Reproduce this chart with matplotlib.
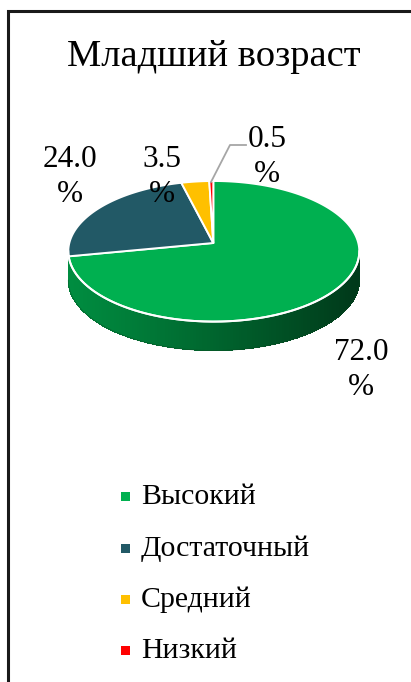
import numpy as np
import matplotlib
matplotlib.use("Agg")
import matplotlib.pyplot as plt
from matplotlib.patches import Polygon, Rectangle

# ------------------------------------------------------------------ #
# Data
# ------------------------------------------------------------------ #
TITLE = "Младший возраст"
categories = ["Высокий", "Достаточный", "Средний", "Низкий"]
values = [72.0, 24.0, 3.5, 0.5]
labels = ["72.0\n%", "24.0\n%", "3.5\n%", "0.5\n%"]
colors = ["#00B050", "#225966", "#FFC000", "#FF0000"]

FONT = "Liberation Serif"

# pie geometry (pixel coords, y down)
CX, CY = 213.8, 251.3        # centre of the top ellipse
RX, RY = 145.5, 70.3
VX, VY = 213.3, 243.0        # apex of the slices (perspective)
DEPTH = 29.0


def edge_point(phi_deg):
    """Point on the top ellipse hit by a ray from the apex at angle phi."""
    phi = np.radians(phi_deg)
    ux, uy = RX * np.cos(phi), -RY * np.sin(phi)
    dx, dy = VX - CX, VY - CY
    a = (ux / RX) ** 2 + (uy / RY) ** 2
    b = 2 * (dx * ux / RX ** 2 + dy * uy / RY ** 2)
    c = (dx / RX) ** 2 + (dy / RY) ** 2 - 1
    t = (-b + np.sqrt(b * b - 4 * a * c)) / (2 * a)
    return VX + t * ux, VY + t * uy


fig = plt.figure(figsize=(4.11, 6.82), dpi=100)
ax = fig.add_axes([0, 0, 1, 1])
ax.set_xlim(0, 411)
ax.set_ylim(682, 0)
ax.axis("off")

# border (chart area is cropped at right/bottom)
ax.plot([8, 8, 411], [682, 11, 11], color="#1a1a1a", lw=2.2,
        solid_joinstyle="miter", zorder=1)

# slice angles: start at 12 o'clock, clockwise
fracs = np.array(values) / sum(values)
starts = 90 - 360 * np.concatenate([[0], np.cumsum(fracs)[:-1]])
ends = starts - 360 * fracs

# ---- side wall (front half of the ellipse), shaded left -> right ----
n_strip = 160
ts = np.linspace(np.pi, 2 * np.pi, n_strip + 1)
for i in range(n_strip):
    t0, t1 = ts[i], ts[i + 1]
    x0, y0 = CX + RX * np.cos(t0), CY - RY * np.sin(t0)
    x1, y1 = CX + RX * np.cos(t1), CY - RY * np.sin(t1)
    # which slice owns this part of the rim
    ang = np.degrees(np.arctan2(-(0.5 * (y0 + y1) - VY) / RY,
                                (0.5 * (x0 + x1) - VX) / RX))
    k = 0
    for j in range(len(values)):
        a = (ang - ends[j]) % 360
        if a <= (starts[j] - ends[j]):
            k = j
            break
    base = np.array(matplotlib.colors.to_rgb(colors[k]))
    f = (0.5 * (x0 + x1) - (CX - RX)) / (2 * RX)
    shade = 0.80 - 0.48 * f ** 1.1
    col = base * shade
    ax.add_patch(Polygon([(x0 - 0.3, y0), (x1 + 0.3, y1), (x1 + 0.3, y1 + DEPTH),
                          (x0 - 0.3, y0 + DEPTH)],
                         closed=True, facecolor=col, edgecolor="none",
                         antialiased=False, zorder=2))

# smooth outline of the wall bottom
ax.plot(CX + RX * np.cos(ts), CY - RY * np.sin(ts) + DEPTH, color="#0a4a22",
        lw=0.6, alpha=0.5, zorder=2)

# ---- top face ----
for j in range(len(values)):
    phis = np.linspace(starts[j], ends[j], max(3, int(abs(starts[j] - ends[j]) * 2)))
    pts = [(VX, VY)] + [edge_point(p) for p in phis]
    ax.add_patch(Polygon(pts, closed=True, facecolor=colors[j],
                         edgecolor="white", lw=1.4, joinstyle="round", zorder=3))

# white rim between top face and wall
tt = np.linspace(np.pi, 2 * np.pi, 200)
ax.plot(CX + RX * np.cos(tt), CY - RY * np.sin(tt), color="white", lw=1.4, zorder=4)

# ---- title ----
ax.text(214, 57, TITLE, ha="center", va="center", fontsize=27.7,
        family=FONT, color="black", zorder=5)

# ---- data labels ----
label_pos = [(361, 370), (70, 177), (162, 177), (267, 157)]
for txt, (lx, ly) in zip(labels, label_pos):
    ax.text(lx, ly, txt, ha="center", va="center", fontsize=22.5,
            family=FONT, linespacing=1.3, color="black", zorder=5)

# leader line for the smallest slice
ax.plot([211, 230, 246], [182, 145, 145], color="#A6A6A6", lw=1.3, zorder=4)

# ---- legend ----
leg_y = [496.5, 548.5, 600, 650.5]
for name, col, y in zip(categories, colors, leg_y):
    ax.add_patch(Rectangle((121, y - 5), 9, 9, facecolor=col, edgecolor="none",
                           zorder=5))
    ax.text(141, y, name, ha="left", va="center", fontsize=21.5,
            family=FONT, color="black", zorder=5)

fig.savefig("out.png", dpi=100)
